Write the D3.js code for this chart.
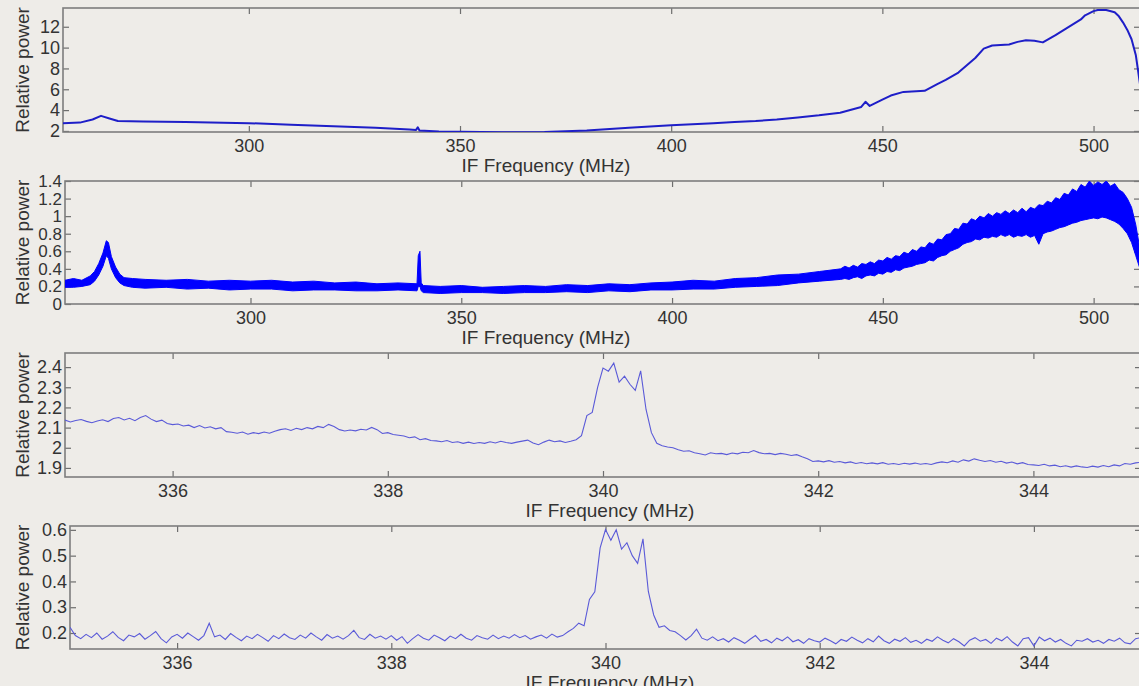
<!DOCTYPE html>
<html>
<head>
<meta charset="utf-8">
<script src="https://cdn.jsdelivr.net/npm/d3@7"></script>
<style>
body{margin:0;background:#eeece8;}
text{font-family:"Liberation Sans",Arial,sans-serif;}
</style>
</head>
<body>
<svg></svg>
<script>
// panel 1: wide sweep, averaged
var f1 = [256,260,263,265,267,269,275,285,300,310,
          320,330,338,339.6,340,340.4,345,350,360,370,
          380,390,400,410,415,420,425,430,435,440,
          445,446,447,450,452,455,458,460,463,465,
          468,470,472,474,476,478,480,482,484,486,
          488,491,493,495,497,498,500,501,503,505,
          506,507,508,509,510,510.5,511];
var v1 = [2.75,2.8,3.1,3.45,3.2,2.95,2.9,2.85,2.75,2.6,
          2.45,2.3,2.15,2.1,2.35,2.05,1.95,1.92,1.88,1.9,
          2.05,2.3,2.55,2.75,2.85,2.95,3.1,3.3,3.5,3.75,
          4.3,4.8,4.4,5.0,5.4,5.75,5.8,5.85,6.5,6.9,
          7.6,8.3,9.0,9.9,10.2,10.25,10.3,10.55,10.7,10.65,
          10.5,11.2,11.7,12.2,12.7,13.1,13.5,13.6,13.6,13.4,
          13.0,12.4,11.7,10.8,9.3,7.9,6.5];

// panel 2: wide sweep, noisy -> lower / upper envelope of the trace
var f2 = [256,258,260,262,263,264,265,265.8,266.3,267,
          268,269,270,272,275,280,285,290,295,300,
          305,310,315,320,325,330,335,339.5,339.8,340.2,
          340.5,341,345,350,355,360,365,370,375,380,
          385,390,395,400,405,410,415,420,425,430,
          435,
          440,441,442,443,444,445,446,447,448,449,
          450,451,452,453,454,455,456,457,458,459,
          460,461,462,463,464,465,466,467,468,469,
          470,471,472,473,474,475,476,477,478,479,
          480,481,482,483,484,485,486,487,488,489,
          490,491,492,493,494,495,496,497,498,499,
          500,501,502,503,504,505,506,507,508,509,
          510,511];
var lo2 = [0.19,0.19,0.20,0.22,0.26,0.33,0.43,0.55,0.52,0.40,
           0.30,0.24,0.21,0.19,0.18,0.19,0.17,0.18,0.16,0.17,
           0.17,0.15,0.16,0.16,0.15,0.15,0.16,0.15,0.20,0.20,
           0.15,0.13,0.12,0.13,0.13,0.12,0.13,0.13,0.14,0.13,
           0.15,0.14,0.16,0.16,0.17,0.17,0.19,0.20,0.21,0.24,
           0.26,
           0.28,0.29,0.28,0.30,0.31,0.29,0.32,0.33,0.32,0.35,
           0.34,0.37,0.36,0.39,0.38,0.41,0.42,0.43,0.45,0.46,
           0.47,0.50,0.49,0.53,0.55,0.56,0.60,0.62,0.64,0.68,
           0.70,0.71,0.74,0.73,0.76,0.75,0.77,0.76,0.79,0.77,
           0.79,0.76,0.78,0.77,0.79,0.76,0.78,0.68,0.80,0.82,
           0.83,0.85,0.87,0.88,0.90,0.92,0.93,0.95,0.96,0.97,
           0.98,0.97,0.99,0.98,0.96,0.94,0.91,0.86,0.80,0.70,
           0.55,0.40];
var hi2 = [0.27,0.29,0.27,0.32,0.37,0.46,0.58,0.72,0.70,0.54,
           0.42,0.34,0.30,0.29,0.28,0.27,0.28,0.26,0.27,0.26,
           0.27,0.25,0.26,0.24,0.25,0.23,0.24,0.23,0.55,0.60,
           0.24,0.21,0.20,0.21,0.19,0.20,0.21,0.20,0.22,0.21,
           0.23,0.22,0.24,0.25,0.27,0.26,0.29,0.30,0.33,0.34,
           0.37,
           0.40,0.43,0.41,0.44,0.42,0.46,0.45,0.48,0.46,0.50,
           0.49,0.53,0.51,0.55,0.54,0.59,0.57,0.62,0.60,0.65,
           0.64,0.70,0.68,0.74,0.73,0.79,0.80,0.86,0.85,0.92,
           0.91,0.97,0.95,1.00,0.98,1.03,1.00,1.04,1.02,1.06,
           1.03,1.07,1.04,1.09,1.05,1.10,1.08,1.13,1.12,1.17,
           1.15,1.21,1.19,1.26,1.24,1.31,1.28,1.36,1.33,1.40,
           1.35,1.39,1.36,1.40,1.34,1.37,1.30,1.27,1.20,1.10,
           0.90,0.62];

// panels 3 and 4: zoom on 335-345 MHz, one value every 0.05 MHz (one row per MHz)
var fZoomStart = 335, fZoomStep = 0.05;
var v3 = [
 2.137,2.128,2.135,2.140,2.131,2.124,2.133,2.139,2.130,2.145,2.150,2.138,2.146,2.134,2.150,2.160,2.142,2.130,2.137,2.120,
 2.115,2.118,2.108,2.112,2.100,2.110,2.098,2.104,2.094,2.100,2.080,2.077,2.072,2.078,2.067,2.075,2.070,2.078,2.072,2.082,
 2.090,2.094,2.086,2.097,2.090,2.100,2.094,2.106,2.100,2.116,2.105,2.090,2.083,2.088,2.084,2.092,2.088,2.101,2.090,2.071,
 2.075,2.066,2.062,2.058,2.050,2.054,2.040,2.045,2.036,2.034,2.030,2.036,2.026,2.030,2.022,2.028,2.021,2.026,2.022,2.030,
 2.024,2.032,2.026,2.022,2.028,2.033,2.038,2.024,2.015,2.028,2.038,2.030,2.034,2.026,2.032,2.040,2.060,2.160,2.175,2.300,
 2.395,2.380,2.420,2.325,2.355,2.315,2.285,2.381,2.190,2.075,2.022,2.010,2.004,2.000,1.990,1.983,1.985,1.975,1.970,1.964,
 1.975,1.970,1.972,1.966,1.974,1.970,1.978,1.975,1.986,1.976,1.970,1.972,1.966,1.972,1.968,1.962,1.966,1.955,1.945,1.932,
 1.935,1.930,1.936,1.928,1.932,1.925,1.930,1.922,1.927,1.921,1.925,1.920,1.926,1.918,1.922,1.917,1.923,1.919,1.924,1.918,
 1.922,1.917,1.925,1.930,1.926,1.935,1.928,1.940,1.934,1.945,1.938,1.932,1.937,1.928,1.933,1.924,1.929,1.920,1.926,1.917,
 1.915,1.912,1.918,1.910,1.914,1.906,1.911,1.904,1.910,1.905,1.902,1.909,1.904,1.912,1.906,1.915,1.910,1.922,1.918,1.925,
 1.928];
var v4 = [
 0.222,0.190,0.178,0.195,0.182,0.200,0.176,0.188,0.205,0.183,0.170,0.192,0.185,0.198,0.176,0.190,0.206,0.178,0.162,0.185,
 0.195,0.180,0.200,0.186,0.172,0.190,0.238,0.185,0.192,0.175,0.198,0.183,0.170,0.188,0.178,0.195,0.182,0.168,0.190,0.178,
 0.196,0.182,0.175,0.192,0.180,0.200,0.185,0.172,0.194,0.180,0.188,0.176,0.190,0.210,0.182,0.175,0.195,0.180,0.188,0.176,
 0.190,0.172,0.186,0.160,0.178,0.194,0.180,0.172,0.192,0.182,0.170,0.188,0.178,0.195,0.180,0.172,0.190,0.182,0.176,0.192,
 0.178,0.188,0.180,0.194,0.182,0.190,0.176,0.185,0.192,0.180,0.196,0.184,0.190,0.205,0.218,0.238,0.228,0.330,0.360,0.530,
 0.601,0.560,0.600,0.525,0.550,0.500,0.470,0.565,0.361,0.270,0.222,0.228,0.210,0.205,0.190,0.173,0.190,0.215,0.180,0.172,
 0.185,0.170,0.178,0.165,0.182,0.172,0.160,0.176,0.190,0.168,0.175,0.162,0.180,0.170,0.185,0.166,0.174,0.160,0.178,0.170,
 0.165,0.180,0.170,0.158,0.175,0.168,0.184,0.172,0.162,0.178,0.166,0.188,0.170,0.160,0.176,0.168,0.182,0.164,0.172,0.160,
 0.176,0.168,0.185,0.172,0.162,0.178,0.166,0.150,0.172,0.182,0.168,0.175,0.160,0.180,0.170,0.186,0.165,0.150,0.178,0.182,
 0.150,0.184,0.170,0.180,0.165,0.175,0.160,0.150,0.172,0.168,0.178,0.165,0.172,0.160,0.175,0.168,0.180,0.162,0.158,0.178,
 0.182];
var fZoom = v3.map(function(d, i){ return fZoomStart + i * fZoomStep; });

// ticks
var xTicksWide = [300,350,400,450,500];
var xTicksZoom = [336,338,340,342,344];
var yTicks1 = [2,4,6,8,10,12];
var yTicks2 = [0,0.2,0.4,0.6,0.8,1,1.2,1.4];
var yTicks3 = [1.9,2,2.1,2.2,2.3,2.4];
var yTicks4 = [0.2,0.3,0.4,0.5,0.6];

var width = 1139, height = 686;
var svg = d3.select("svg").attr("width", width).attr("height", height);
svg.append("rect").attr("width", width).attr("height", height).attr("fill", "#eeece8");
var defs = svg.append("defs");

function panel(id, box, xDom, yDom, xTicks, yTicks, labelX, yFont) {
    var x = d3.scaleLinear().domain(xDom).range([box.l, box.r]);
    var y = d3.scaleLinear().domain(yDom).range([box.b, box.t]);
    defs.append("clipPath").attr("id", id).append("rect")
        .attr("x", box.l).attr("y", box.t)
        .attr("width", box.r - box.l).attr("height", box.b - box.t);
    var g = svg.append("g");
    var fmt = function(d){ return String(+d.toFixed(2)); };

    var bottom = g.append("g").attr("transform", "translate(0," + box.b + ")")
        .call(d3.axisBottom(x).tickValues(xTicks).tickSizeInner(-6).tickSizeOuter(0).tickPadding(7).tickFormat(fmt));
    var top = g.append("g").attr("transform", "translate(0," + box.t + ")")
        .call(d3.axisTop(x).tickValues(xTicks).tickSizeInner(-6).tickSizeOuter(0).tickFormat(""));
    var left = g.append("g").attr("transform", "translate(" + box.l + ",0)")
        .call(d3.axisLeft(y).tickValues(yTicks).tickSizeInner(-6).tickSizeOuter(0).tickPadding(3).tickFormat(fmt));
    var right = g.append("g").attr("transform", "translate(" + box.r + ",0)")
        .call(d3.axisRight(y).tickValues(yTicks).tickSizeInner(-6).tickSizeOuter(0).tickFormat(""));
    [bottom, top, left, right].forEach(function(a){
        a.select(".domain").remove();
        a.selectAll("line").attr("stroke", "#6e6e6e").attr("stroke-width", 1.2);
        a.selectAll("text").attr("fill", "#333").style("font-size", "18px");
    });
    left.selectAll("text").style("font-size", yFont + "px");
    g.append("rect")
        .attr("x", box.l).attr("y", box.t)
        .attr("width", box.r - box.l).attr("height", box.b - box.t)
        .attr("fill", "none").attr("stroke", "#7d7d7d").attr("stroke-width", 1.6);

    g.append("text")
        .attr("transform", "translate(22," + ((box.t + box.b) / 2) + ") rotate(-90)")
        .attr("text-anchor", "middle").attr("dy", "0.35em")
        .attr("fill", "#333").style("font-size", "19px")
        .text("Relative power");
    g.append("text")
        .attr("x", labelX).attr("y", box.b + 33)
        .attr("text-anchor", "middle").attr("dy", "0.35em")
        .attr("fill", "#333").style("font-size", "19px")
        .text("IF Frequency (MHz)");

    var plot = g.append("g").attr("clip-path", "url(#" + id + ")");
    return {x: x, y: y, plot: plot};
}

// panel 1
var p1 = panel("c1", {l: 63, r: 1140, t: 8, b: 132}, [256, 511], [1.9, 13.8], xTicksWide, yTicks1, 546, 18);
p1.plot.append("path")
    .datum(d3.range(f1.length))
    .attr("fill", "none").attr("stroke", "#1e1ec8").attr("stroke-width", 2)
    .attr("stroke-linejoin", "round")
    .attr("d", d3.line().x(function(i){ return p1.x(f1[i]); }).y(function(i){ return p1.y(v1[i]); }));

// panel 2
var p2 = panel("c2", {l: 65, r: 1140, t: 181, b: 304}, [256, 511], [0, 1.4], xTicksWide, yTicks2, 546, 17);
p2.plot.append("path")
    .datum(d3.range(f2.length))
    .attr("fill", "#0000ff").attr("stroke", "#0000ff").attr("stroke-width", 1)
    .attr("d", d3.area()
        .x(function(i){ return p2.x(f2[i]); })
        .y0(function(i){ return p2.y(lo2[i]); })
        .y1(function(i){ return p2.y(hi2[i]); }));

// panel 3
var p3 = panel("c3", {l: 65, r: 1141, t: 353, b: 477}, [335, 345], [1.855, 2.47], xTicksZoom, yTicks3, 610, 18);
p3.plot.append("path")
    .datum(d3.range(v3.length))
    .attr("fill", "none").attr("stroke", "#5a5ad8").attr("stroke-width", 1.1)
    .attr("d", d3.line().x(function(i){ return p3.x(fZoom[i]); }).y(function(i){ return p3.y(v3[i]); }));

// panel 4
var p4 = panel("c4", {l: 70, r: 1141, t: 526, b: 649}, [335, 345], [0.138, 0.615], xTicksZoom, yTicks4, 610, 18);
p4.plot.append("path")
    .datum(d3.range(v4.length))
    .attr("fill", "none").attr("stroke", "#5a5ad8").attr("stroke-width", 1.1)
    .attr("d", d3.line().x(function(i){ return p4.x(fZoom[i]); }).y(function(i){ return p4.y(v4[i]); }));
</script>
</body>
</html>
